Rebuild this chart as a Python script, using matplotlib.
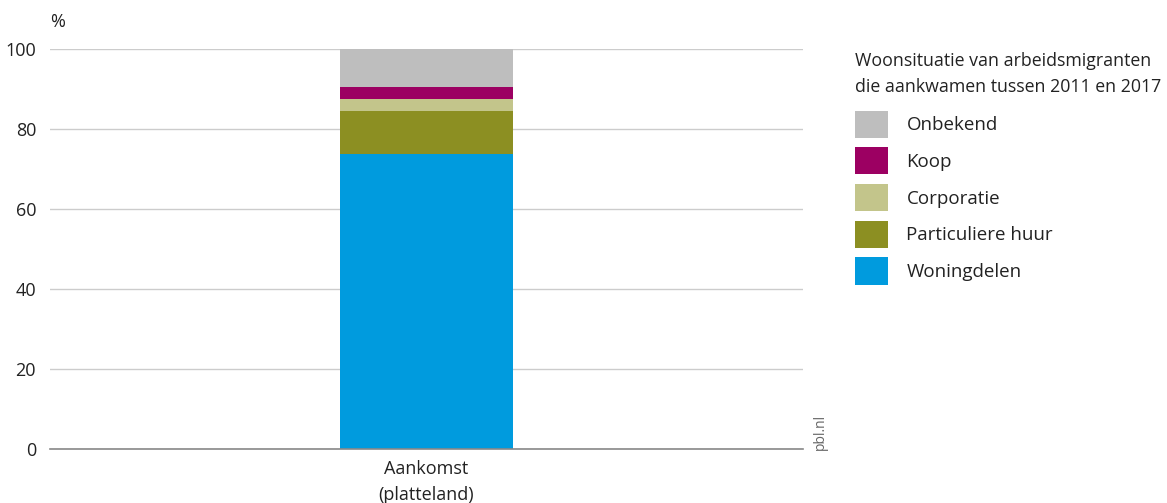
import matplotlib
matplotlib.use("Agg")
import matplotlib.pyplot as plt
from matplotlib.patches import Patch

categories = ["Aankomst\n(platteland)"]
series_names = ["Woningdelen", "Particuliere huur", "Corporatie", "Koop", "Onbekend"]
series_values = [[73.8], [10.7], [2.9], [3.0], [9.6]]
series_colors = ["#009BDE", "#8C8F22", "#C3C58B", "#9C0062", "#BEBEBE"]
yticks = [0, 20, 40, 60, 80, 100]
legend_title = "Woonsituatie van arbeidsmigranten\ndie aankwamen tussen 2011 en 2017"

plt.rcParams['font.family'] = ['Open Sans', 'DejaVu Sans']

fig = plt.figure(figsize=(11.67, 5.03), dpi=100)
ax = fig.add_axes([50/1167, 1-449/503, 753/1167, 400/503])

x = list(range(len(categories)))
bottom = [0.0]*len(categories)
for name, vals, col in zip(series_names, series_values, series_colors):
    ax.bar(x, vals, bottom=bottom, width=0.457, color=col, zorder=3, label=name)
    bottom = [b+v for b, v in zip(bottom, vals)]

ax.set_xlim(-1, 1)
ax.set_ylim(0, 100)
ax.set_yticks(yticks)
ax.set_yticklabels([str(t) for t in yticks], fontsize=13, color="#222222")
ax.set_xticks(x)
ax.set_xticklabels(categories, fontsize=13, color="#222222", linespacing=1.55)
ax.tick_params(axis='both', length=0, pad=8)
ax.tick_params(axis='y', pad=10)
ax.grid(axis='y', color="#cccccc", linewidth=1, zorder=0)
for s in ["top", "right", "left"]:
    ax.spines[s].set_visible(False)
ax.spines["bottom"].set_color("#888888")
ax.spines["bottom"].set_linewidth(1.2)
ax.spines["bottom"].set_zorder(4)

fig.text(50/1167, 1-22/503, "%", fontsize=13, color="#222222", va="center", ha="left")
fig.text(820/1167, 1-432/503, "pbl.nl", fontsize=10, color="#666666", rotation=90,
         ha="center", va="center")

fig.text(855/1167, 1-74/503, legend_title, fontsize=12.8, color="#222222",
         ha="left", va="center", linespacing=1.6)

handles = [Patch(facecolor=c, edgecolor="none", label=n)
           for n, c in zip(series_names[::-1], series_colors[::-1])]
leg = fig.legend(handles=handles, loc="upper left",
                 bbox_to_anchor=(849/1167, 1-105/503), frameon=False,
                 fontsize=13.5, handlelength=1.76,
                 handleheight=1.85, handletextpad=1.0, labelspacing=0.51,
                 borderaxespad=0, borderpad=0.3)
for t in leg.get_texts():
    t.set_color("#222222")

fig.savefig("out.png", dpi=100)
